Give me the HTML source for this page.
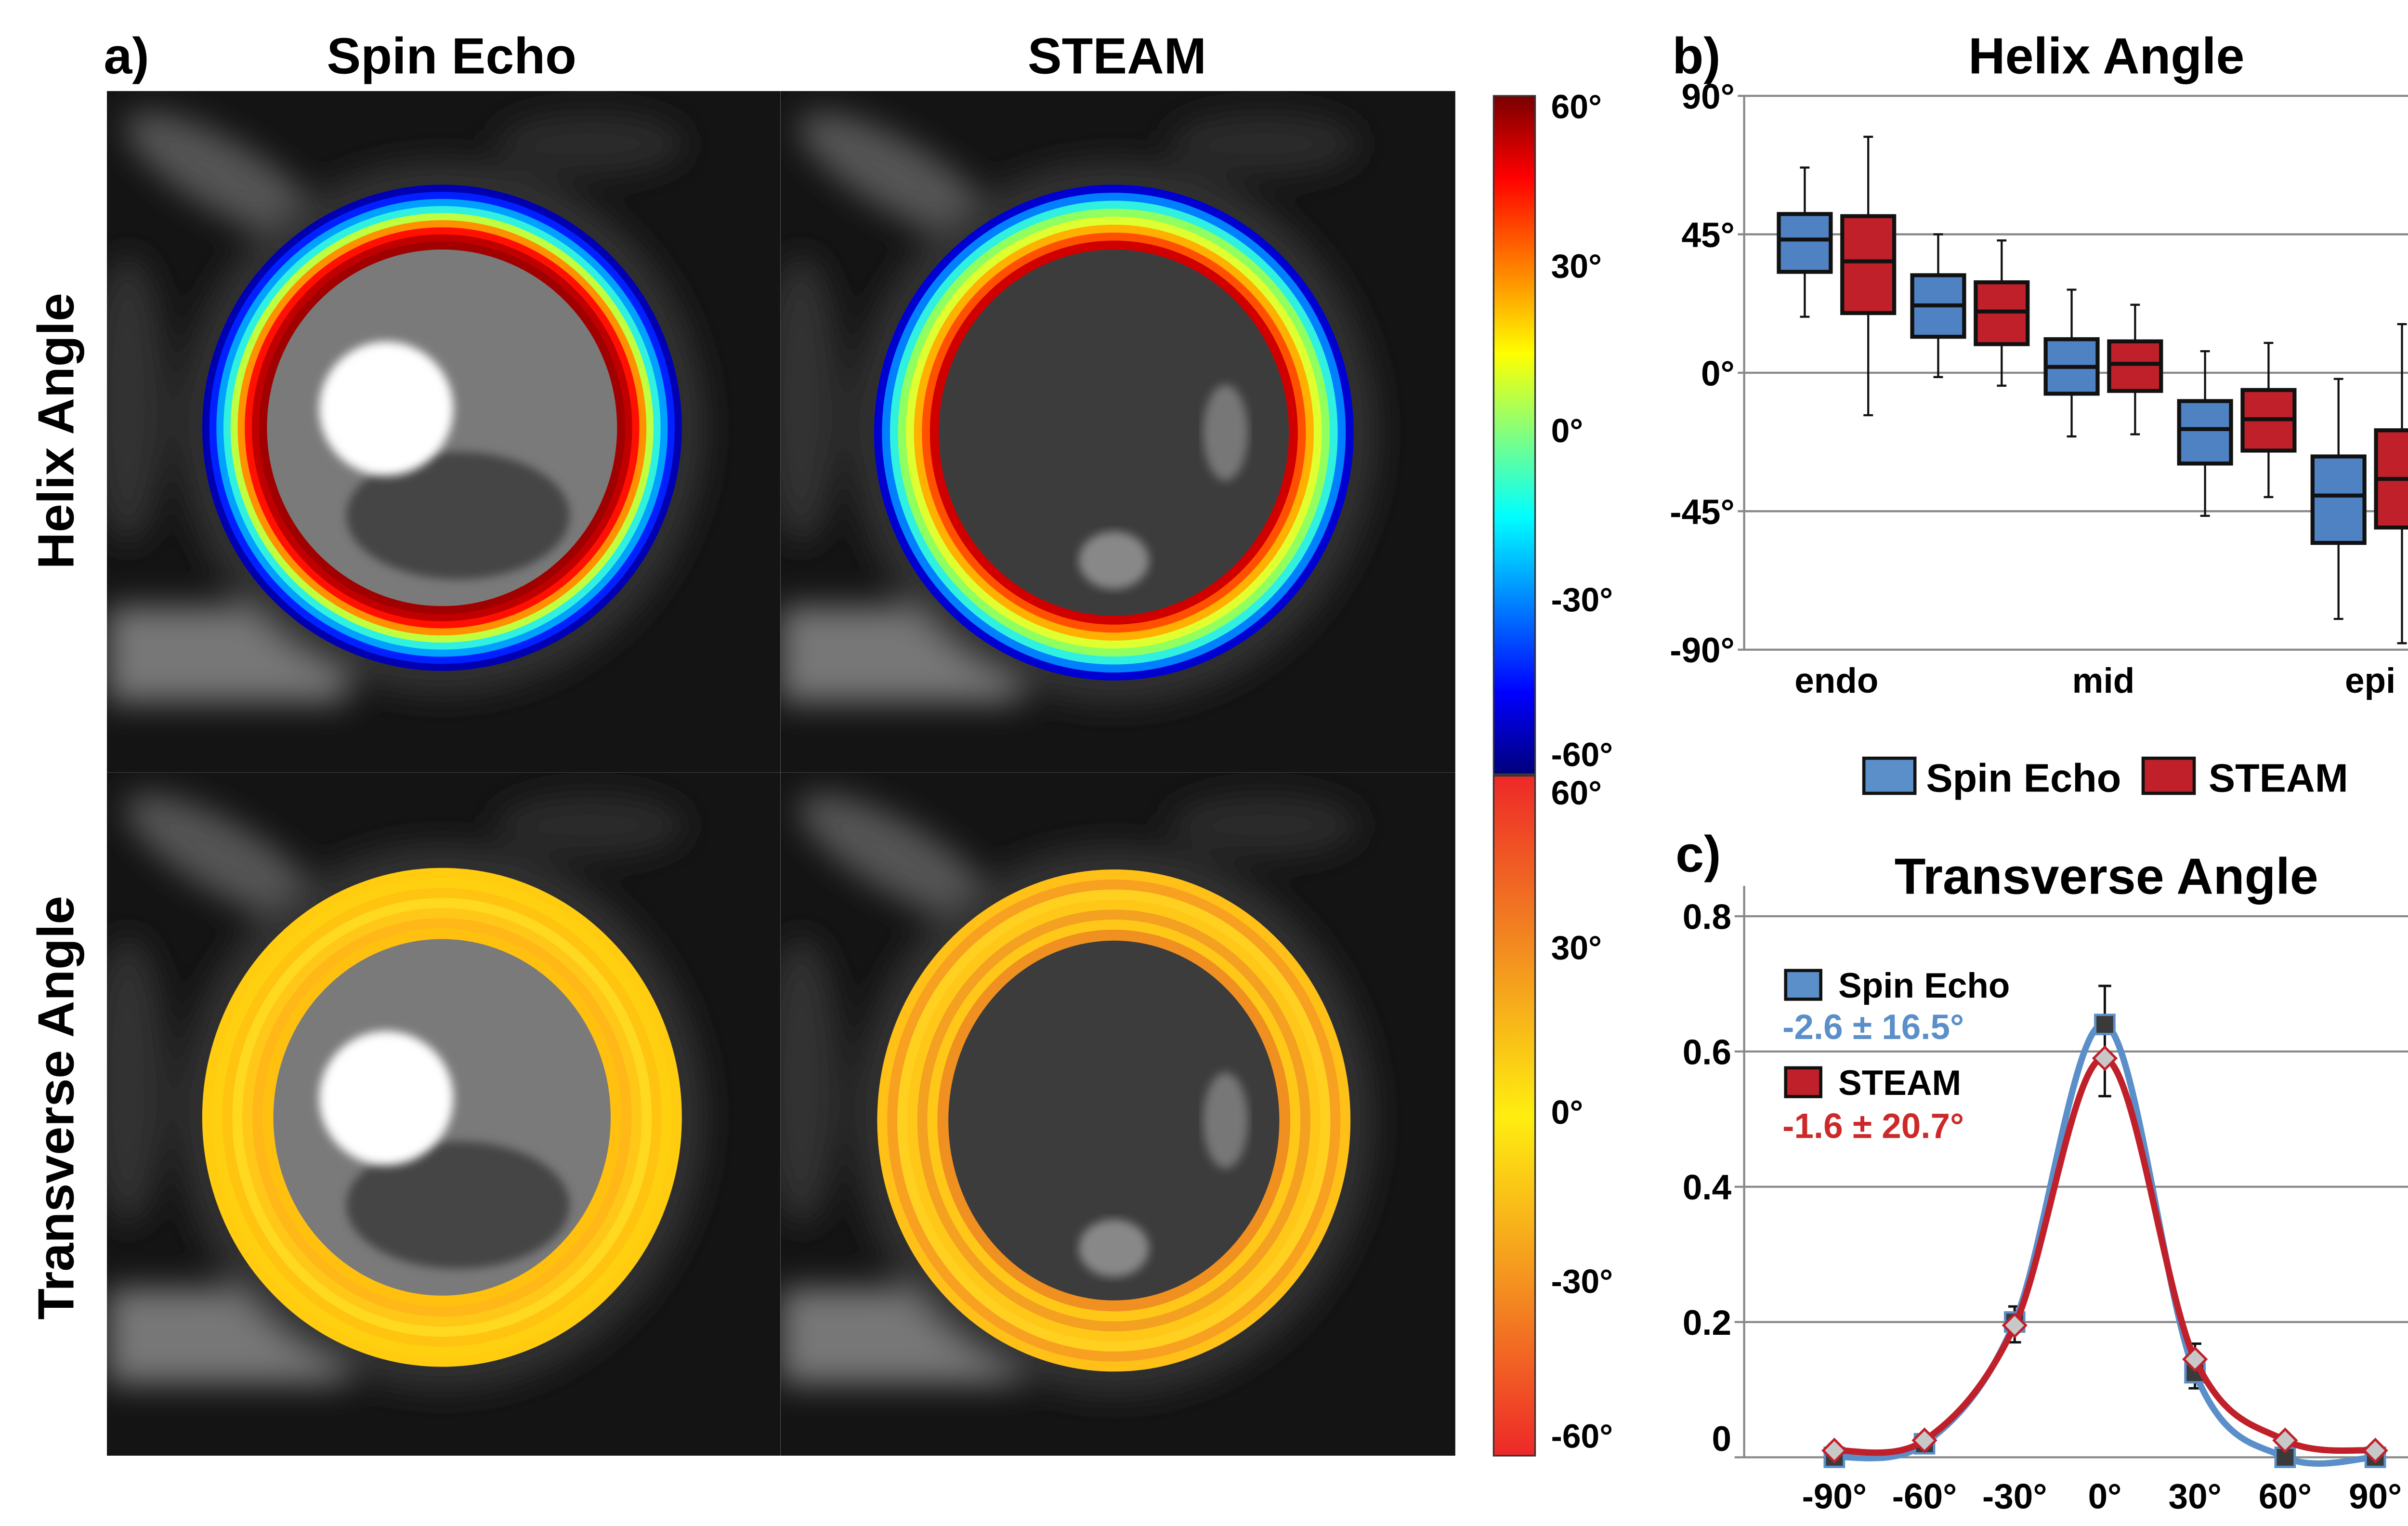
<!DOCTYPE html>
<html><head><meta charset="utf-8"><style>
html,body{margin:0;padding:0;background:#fff;}
svg{display:block;font-family:"Liberation Sans",sans-serif;font-weight:bold;}
</style></head><body>
<svg id="fig" width="5169" height="3168" viewBox="0 0 1560 956" xmlns="http://www.w3.org/2000/svg">
<defs>
<linearGradient id="jet" x1="0" y1="0" x2="0" y2="1">
<stop offset="0" stop-color="#7a0000"/><stop offset="0.12" stop-color="#ff0000"/><stop offset="0.27" stop-color="#ff9000"/><stop offset="0.38" stop-color="#ffff00"/><stop offset="0.5" stop-color="#80ff80"/><stop offset="0.62" stop-color="#00ffff"/><stop offset="0.75" stop-color="#0080ff"/><stop offset="0.88" stop-color="#0000ff"/><stop offset="1" stop-color="#00007a"/>
</linearGradient>
<linearGradient id="hot" x1="0" y1="0" x2="0" y2="1">
<stop offset="0" stop-color="#ee2828"/><stop offset="0.25" stop-color="#f28a20"/><stop offset="0.5" stop-color="#ffee10"/><stop offset="0.75" stop-color="#f49020"/><stop offset="1" stop-color="#ee2828"/>
</linearGradient>
<filter id="blur" x="-20%" y="-20%" width="140%" height="140%"><feGaussianBlur stdDeviation="10"/></filter>
<filter id="blur2"><feGaussianBlur stdDeviation="3"/></filter>
<clipPath id="c1"><rect x="67" y="57" width="422" height="427"/></clipPath>
<clipPath id="c2"><rect x="489" y="57" width="423" height="427"/></clipPath>
<clipPath id="c3"><rect x="67" y="484" width="422" height="428"/></clipPath>
<clipPath id="c4"><rect x="489" y="484" width="423" height="428"/></clipPath>
</defs>

<text x="65" y="46" font-size="32">a)</text>
<text x="283" y="46" font-size="32" text-anchor="middle">Spin Echo</text>
<text x="700" y="46" font-size="32" text-anchor="middle">STEAM</text>
<text transform="translate(46,270) rotate(-90)" font-size="32" text-anchor="middle">Helix Angle</text>
<text transform="translate(46,694) rotate(-90)" font-size="32" text-anchor="middle">Transverse Angle</text>

<g id="images"></g>

<rect x="936" y="60" width="26" height="425" fill="url(#jet)" stroke="#333" stroke-width="1"/>
<rect x="936" y="486" width="26" height="426" fill="url(#hot)" stroke="#333" stroke-width="1"/>
<g font-size="21">
<text x="972" y="74">60°</text><text x="972" y="174">30°</text><text x="972" y="277">0°</text><text x="972" y="383">-30°</text><text x="972" y="480">-60°</text>
<text x="972" y="504">60°</text><text x="972" y="601">30°</text><text x="972" y="704">0°</text><text x="972" y="810">-30°</text><text x="972" y="907">-60°</text>
</g>

<text x="1048" y="46" font-size="32">b)</text>
<text x="1320" y="46" font-size="32" text-anchor="middle">Helix Angle</text>
<g id="boxchart"></g>
<g>
<rect x="1168" y="475" width="32" height="22" fill="#5b8fc9" stroke="#111" stroke-width="2"/>
<text x="1207" y="496" font-size="25">Spin Echo</text>
<rect x="1343" y="475" width="32" height="22" fill="#c0202a" stroke="#111" stroke-width="2"/>
<text x="1384" y="496" font-size="25">STEAM</text>
</g>

<text x="1050" y="546" font-size="32">c)</text>
<text x="1320" y="560" font-size="32" text-anchor="middle">Transverse Angle</text>
<g id="linechart"></g>
<g>
<rect x="1119" y="608" width="22" height="18" fill="#5b8fc9" stroke="#111" stroke-width="2"/>
<text x="1152" y="625" font-size="22">Spin Echo</text>
<text x="1117" y="651" font-size="22" fill="#5b8fc9">-2.6 ± 16.5°</text>
<rect x="1119" y="669" width="22" height="18" fill="#c0202a" stroke="#111" stroke-width="2"/>
<text x="1152" y="686" font-size="22">STEAM</text>
<text x="1117" y="713" font-size="22" fill="#cc2a2a">-1.6 ± 20.7°</text>
</g>
</svg>
<script>
var boxGroups = ['g1','g2','g3','g4','g5'];
var catLabels = ['endo','mid','epi'];
var seMax = [66.7, 45, 27, 7, -2];
var seQ3  = [51.6, 31.7, 10.9, -9.2, -27.2];
var seMed = [43.3, 21.9, 1.9, -18.3, -39.9];
var seQ1  = [32.8, 11.7, -6.8, -29.5, -55.3];
var seMin = [18.2, -1.4, -20.7, -46.5, -80];
var stMax = [76.7, 43, 22.1, 9.7, 15.8];
var stQ3  = [50.9, 29.4, 10.2, -5.6, -18.7];
var stMed = [36.2, 19.9, 2.9, -15.1, -34.5];
var stQ1  = [19.4, 9.3, -5.9, -25.3, -50.3];
var stMin = [-13.8, -4.2, -20, -40.4, -87.9];
var helixTicks = [90, 45, 0, -45, -90];
var helixTickLabels = ['90°','45°','0°','-45°','-90°'];

var angles = [-90, -60, -30, 0, 30, 60, 90];
var angleLabels = ['-90°','-60°','-30°','0°','30°','60°','90°'];
var seFreq = [0.0, 0.02, 0.2, 0.64, 0.125, 0.0, 0.0];
var stFreq = [0.01, 0.025, 0.195, 0.59, 0.145, 0.025, 0.01];
var errAngles = [-30, 0, 30];
var errHi = [0.223, 0.697, 0.168];
var errLo = [0.17, 0.534, 0.102];
var fracTicks = [0.8, 0.6, 0.4, 0.2, 0];
var fracTickLabels = ['0.8','0.6','0.4','0.2','0'];

var NS = 'http://www.w3.org/2000/svg';
function mk(tag, attrs, parent){var e=document.createElementNS(NS,tag);for(var k in attrs)e.setAttribute(k,attrs[k]);parent.appendChild(e);return e;}

(function(){
  var g=document.getElementById('images');
  var panels=[
    {clip:'c1',x:67,y:57,w:422,h:427,cx:277,cy:268,rx:150,ry:152,type:'jetSE',blob:true},
    {clip:'c2',x:489,y:57,w:423,h:427,cx:698,cy:271,rx:150,ry:155,type:'jetST',blob:false},
    {clip:'c3',x:67,y:484,w:422,h:428,cx:277,cy:700,rx:150,ry:156,type:'hot',blob:true},
    {clip:'c4',x:489,y:484,w:423,h:428,cx:698,cy:702,rx:148,ry:157,type:'hot2',blob:false}
  ];
  panels.forEach(function(p,i){
    var pg=mk('g',{'clip-path':'url(#'+p.clip+')'},g);
    
    
    mk('rect',{x:p.x,y:p.y,width:p.w,height:p.h,fill:'#141414'},pg);
    var bg=mk('g',{filter:'url(#blur)'},pg);
    var dx=p.x-67, dy=p.y-57;
    mk('ellipse',{cx:140+dx,cy:110+dy,rx:70,ry:22,fill:'#555',transform:'rotate(30 '+(140+dx)+' '+(110+dy)+')'},bg);
    mk('rect',{x:67+dx,y:380+dy,width:150,height:60,fill:'#777'},bg);
    mk('ellipse',{cx:80+dx,cy:250+dy,rx:25,ry:90,fill:'#333'},bg);
    mk('ellipse',{cx:370+dx,cy:90+dy,rx:60,ry:20,fill:'#2a2a2a'},bg);
    mk('ellipse',{cx:p.cx,cy:p.cy,rx:p.rx+15,ry:p.ry+15,fill:'#333'},bg);
    mk('ellipse',{cx:p.cx,cy:p.cy,rx:p.rx-30,ry:p.ry-30,fill:p.blob?'#7a7a7a':'#3c3c3c'},pg);
    if(p.blob){
      mk('ellipse',{cx:p.cx+10,cy:p.cy+55,rx:70,ry:40,fill:'#444',filter:'url(#blur2)'},pg);
      mk('ellipse',{cx:p.cx-35,cy:p.cy-12,rx:42,ry:42,fill:'#fff',filter:'url(#blur2)'},pg);
    } else {
      mk('ellipse',{cx:p.cx+70,cy:p.cy,rx:14,ry:30,fill:'#777',filter:'url(#blur2)'},pg);
      mk('ellipse',{cx:p.cx,cy:p.cy+80,rx:22,ry:18,fill:'#888',filter:'url(#blur2)'},pg);
    }
    var cols;
    if(p.type==='jetSE') cols=['#0000b0','#0020ff','#00a0ff','#30f0e0','#c0ff40','#ff9000','#ff1000','#c00000','#a00000'];
    else if(p.type==='jetST') cols=['#0000d0','#0080ff','#30f0e0','#90ff60','#e0ff30','#ffb000','#ff5000','#d00000'];
    else if(p.type==='hot') cols=['#ffcc10','#ffd010','#ffc410','#ffd820','#ffc818','#ffb818','#ffc010'];
    else cols=['#ffc018','#f8a020','#ffd020','#ffc818','#f4a020','#ffc818','#f09020'];
    var n=cols.length, th=(p.type.indexOf('jet')===0?40:44)/n;
    cols.forEach(function(c,k){
      mk('ellipse',{cx:p.cx,cy:p.cy,rx:p.rx-th*(k+0.5),ry:p.ry-th*(k+0.5),fill:'none',stroke:c,'stroke-width':th+0.6},pg);
    });
  });
})();

(function(){
  var g=document.getElementById('boxchart');
  var X0=1093,X1=1545,Y90=60,Ym90=407;
  function y(v){return Y90+(90-v)*(Ym90-Y90)/180;}
  function xf(f){return X0+f*(X1-X0);}
  helixTicks.forEach(function(t,i){
    var ln=mk('line',{x1:X0-4,x2:X1,y1:y(t),y2:y(t),stroke:'#888','stroke-width':1.3},g);
    
    
    var tx=mk('text',{x:X0-6,y:y(t)+8,'font-size':22,'text-anchor':'end'},g);
    tx.textContent=helixTickLabels[i];
    
    
  });
  var ax=mk('line',{x1:X0,x2:X0,y1:y(90),y2:y(-90),stroke:'#888','stroke-width':1.3},g);
  
  
  var n=boxGroups.length, step=0.185, first=0.128, off=0.044, bw=0.072;
  function drawBox(f,mx,q3,md,q1,mn,col,name){
    var bg=mk('g',{},g);
    
    
    var cx=xf(f), w=bw*(X1-X0);
    mk('line',{x1:cx,x2:cx,y1:y(mx),y2:y(mn),stroke:'#111','stroke-width':1.3},bg);
    mk('line',{x1:cx-3,x2:cx+3,y1:y(mx),y2:y(mx),stroke:'#111','stroke-width':1.3},bg);
    mk('line',{x1:cx-3,x2:cx+3,y1:y(mn),y2:y(mn),stroke:'#111','stroke-width':1.3},bg);
    mk('rect',{x:cx-w/2,y:y(q3),width:w,height:y(q1)-y(q3),fill:col,stroke:'#111','stroke-width':2.5},bg);
    mk('line',{x1:cx-w/2,x2:cx+w/2,y1:y(md),y2:y(md),stroke:'#111','stroke-width':2.5},bg);
  }
  for(var i=0;i<n;i++){
    var c=first+i*step;
    drawBox(c-off,seMax[i],seQ3[i],seMed[i],seQ1[i],seMin[i],'#4f82c2','spin-echo-box-'+(i+1));
    drawBox(c+off,stMax[i],stQ3[i],stMed[i],stQ1[i],stMin[i],'#c0202a','steam-box-'+(i+1));
  }
  catLabels.forEach(function(l,k){
    var f=first+k*2*step;
    var t=mk('text',{x:xf(f),y:434,'font-size':22,'text-anchor':'middle'},g);
    t.textContent=l;
    
    
  });
})();

(function(){
  var g=document.getElementById('linechart');
  var X0=1093,X1=1545,Y0=913,Y8=574;
  function y(v){return Y0-v*(Y0-Y8)/0.8;}
  function x(a){return X0+(a+120)/240*(X1-X0);}
  fracTicks.forEach(function(t,i){
    var ln=mk('line',{x1:X0-6,x2:X1,y1:y(t),y2:y(t),stroke:'#888','stroke-width':1.3},g);
    
    
    var tx=mk('text',{x:X0-8,y:y(t)+(t===0?-4:8),'font-size':22,'text-anchor':'end'},g);
    tx.textContent=fracTickLabels[i];
    
    
  });
  var ax=mk('line',{x1:X0,x2:X0,y1:555,y2:Y0,stroke:'#888','stroke-width':1.3},g);
  
  
  angles.forEach(function(a,i){
    var t=mk('text',{x:x(a),y:945,'font-size':22,'text-anchor':'middle'},g);
    t.textContent=angleLabels[i];
    
    
  });
  function smooth(vals){
    var pts=angles.map(function(a,i){return [x(a),y(vals[i])];});
    var d='M'+pts[0][0]+','+pts[0][1];
    for(var i=0;i<pts.length-1;i++){
      var p0=pts[Math.max(0,i-1)],p1=pts[i],p2=pts[i+1],p3=pts[Math.min(pts.length-1,i+2)];
      var c1=[p1[0]+(p2[0]-p0[0])/6,p1[1]+(p2[1]-p0[1])/6];
      var c2=[p2[0]-(p3[0]-p1[0])/6,p2[1]-(p3[1]-p1[1])/6];
      d+=' C'+c1[0]+','+c1[1]+' '+c2[0]+','+c2[1]+' '+p2[0]+','+p2[1];
    }
    return d;
  }
  errAngles.forEach(function(a,i){
    var eg=mk('g',{stroke:'#111','stroke-width':1.5},g);
    
    
    mk('line',{x1:x(a),x2:x(a),y1:y(errHi[i]),y2:y(errLo[i])},eg);
    mk('line',{x1:x(a)-4,x2:x(a)+4,y1:y(errHi[i]),y2:y(errHi[i])},eg);
    mk('line',{x1:x(a)-4,x2:x(a)+4,y1:y(errLo[i]),y2:y(errLo[i])},eg);
  });
  var l1=mk('path',{d:smooth(seFreq),fill:'none',stroke:'#5b8fc9','stroke-width':4},g);
  
  
  angles.forEach(function(a,i){
    var m=mk('rect',{x:x(a)-6,y:y(seFreq[i])-6,width:12,height:12,fill:'#3a3a3a',stroke:'#5b8fc9','stroke-width':1.5},g);
    
    
  });
  var l2=mk('path',{d:smooth(stFreq),fill:'none',stroke:'#c0202a','stroke-width':4},g);
  
  
  angles.forEach(function(a,i){
    var cx=x(a),cy=y(stFreq[i]);
    var m=mk('polygon',{points:(cx)+','+(cy-7)+' '+(cx+7)+','+cy+' '+cx+','+(cy+7)+' '+(cx-7)+','+cy,fill:'#c8c8c8',stroke:'#c0202a','stroke-width':1.5},g);
    
    
  });
})();
</script>
</body></html>
